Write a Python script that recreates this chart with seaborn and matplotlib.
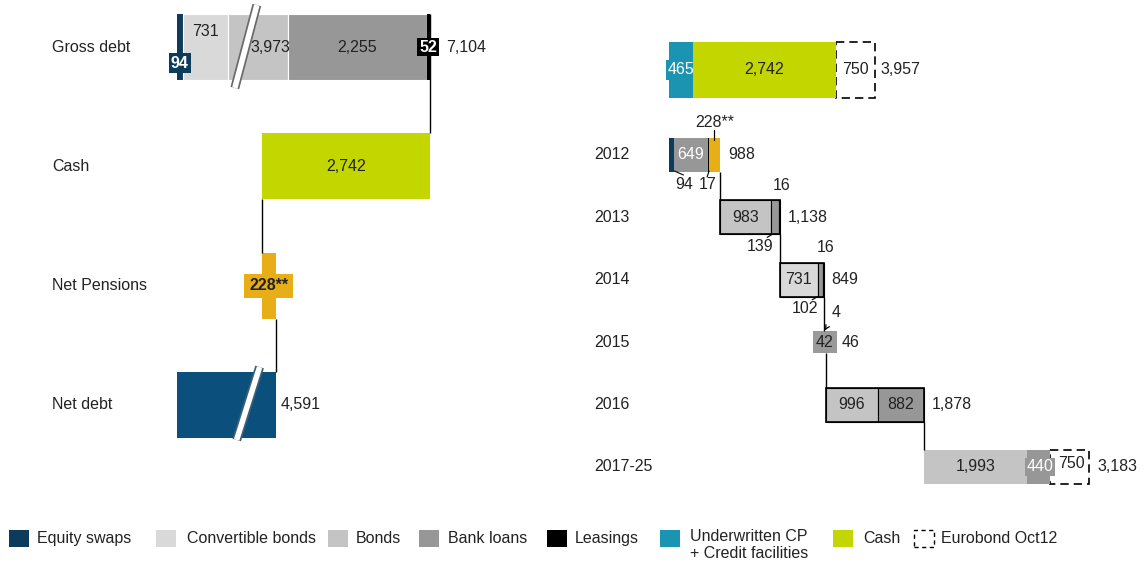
import matplotlib
matplotlib.use("Agg")
import matplotlib.pyplot as plt
import seaborn as sns
import numpy as np
from matplotlib.patches import Rectangle

# ---------------- data ----------------
bridge_rows = ["Gross debt", "Cash", "Net Pensions", "Net debt"]
gross_types = ["Equity swaps", "Convertible bonds", "Bonds", "Bank loans", "Leasings"]
gross_values = [94, 731, 3973, 2255, 52]
gross_labels = ["94", "731", "3,973", "2,255", "52"]
gross_total = 7104
cash_value = 2742
pension_value = 228
net_debt_value = 4591
axis_break_units = 2980          # amount hidden by the "//" break marks

liquidity_types = ["Underwritten CP", "Cash", "Eurobond Oct12"]
liquidity_values = [465, 2742, 750]
liquidity_labels = ["465", "2,742", "750"]
liquidity_total = 3957

years = ["2012", "2013", "2014", "2015", "2016", "2017-25"]
year_totals = [988, 1138, 849, 46, 1878, 3183]
types_2012 = ["Equity swaps", "Bank loans", "Leasings", "Pensions"]
values_2012 = [94, 649, 17, 228]
types_2013 = ["Bonds", "Bank loans", "Leasings"]
values_2013 = [983, 139, 16]
types_2014 = ["Convertible bonds", "Bank loans", "Leasings"]
values_2014 = [731, 102, 16]
types_2015 = ["Leasings", "Bank loans"]
values_2015 = [4, 42]
types_2016 = ["Bonds", "Bank loans"]
values_2016 = [996, 882]
types_2017 = ["Bonds", "Bank loans", "Eurobond Oct12"]
values_2017 = [1993, 440, 750]

legend_labels = ["Equity swaps", "Convertible bonds", "Bonds", "Bank loans", "Leasings",
                 "Underwritten CP\n+ Credit facilities", "Cash", "Eurobond Oct12"]
legend_keys = ["Equity swaps", "Convertible bonds", "Bonds", "Bank loans", "Leasings",
               "Underwritten CP", "Cash", "Eurobond Oct12"]

colors = {
    "Equity swaps": "#0d3b5c",
    "Convertible bonds": "#d9d9d9",
    "Bonds": "#c4c4c4",
    "Bank loans": "#979797",
    "Leasings": "#000000",
    "Underwritten CP": "#1a94b0",
    "Cash": "#c3d600",
    "Pensions": "#e8ae17",
    "Net debt": "#0b4f7d",
    "Eurobond Oct12": "none",
}
TXT = "#222222"

sns.set_theme(style="white")
plt.rcParams["font.family"] = ["Liberation Sans", "DejaVu Sans"]
FS = 11.5

FIG_W, FIG_H = 1145, 568
fig = plt.figure(figsize=(FIG_W / 100, FIG_H / 100), dpi=100)

# ================= left panel (debt bridge) =================
L_W = 580
L_SCALE = 0.0613      # px per unit
L_ORIGIN = 177        # px of value 0
L_ROW_PX = 119.33
L_ROW0 = 47
axL = fig.add_axes([0, 0, L_W / FIG_W, 1])
axL.set_xlim(-L_ORIGIN / L_SCALE, (L_W - L_ORIGIN) / L_SCALE)
axL.set_ylim((FIG_H - L_ROW0) / L_ROW_PX, -L_ROW0 / L_ROW_PX)
axL.axis("off")
lx = lambda px: px / L_SCALE
ly = lambda px: px / L_ROW_PX
hL = ly(66)


def break_mark(ax, xc, yc, half_h, dx, edge):
    xs = [xc - dx, xc + dx]
    ys = [yc + half_h, yc - half_h]
    ax.plot(xs, ys, color=edge, lw=6.5, solid_capstyle="butt", zorder=5)
    ax.plot(xs, ys, color="white", lw=4, solid_capstyle="butt", zorder=6)


# gross debt stacked
disp = [v - axis_break_units if t == "Bonds" else v for t, v in zip(gross_types, gross_values)]
lefts = np.concatenate([[0], np.cumsum(disp)[:-1]])
gross_end = float(np.sum(disp))
for t, w, l in zip(gross_types, disp, lefts):
    ec = "white" if t in ("Convertible bonds", "Bonds", "Bank loans") else "none"
    axL.barh(0, w, left=l, height=hL, color=colors[t], edgecolor=ec, linewidth=0.8, zorder=2)
# labels
axL.text(lefts[0] + disp[0] / 2, ly(16), gross_labels[0], color="white", fontsize=FS,
         weight="bold", ha="center", va="center", zorder=8,
         bbox=dict(boxstyle="square,pad=0.15", fc=colors["Equity swaps"], ec="none"))
axL.text(lefts[1] + disp[1] / 2, -ly(16), gross_labels[1], color=TXT, fontsize=FS,
         ha="center", va="center", zorder=8)
axL.text(lefts[2] + disp[2] / 2 + lx(12), 0, gross_labels[2], color=TXT, fontsize=FS,
         ha="center", va="center", zorder=8)
axL.text(lefts[3] + disp[3] / 2, 0, gross_labels[3], color=TXT, fontsize=FS,
         ha="center", va="center", zorder=8)
axL.text(lefts[4] + disp[4] / 2, 0, gross_labels[4], color="white", fontsize=FS,
         weight="bold", ha="center", va="center", zorder=8,
         bbox=dict(boxstyle="square,pad=0.12", fc="black", ec="none"))
axL.text(gross_end + lx(16), 0, f"{gross_total:,}", color=TXT, fontsize=FS,
         ha="left", va="center")
break_mark(axL, lefts[2] + 0.3 * disp[2], 0 - ly(0.5), ly(41.5), lx(11), "#6a6a6a")

# cash
cash_left = gross_end - cash_value
axL.barh(1, cash_value, left=cash_left, height=hL, color=colors["Cash"], linewidth=0, zorder=2)
axL.text(cash_left + cash_value / 2, 1, f"{cash_value:,}", color=TXT, fontsize=FS,
         ha="center", va="center")
axL.vlines(gross_end, 0 - hL / 2, 1 - hL / 2, color="black", lw=1, zorder=3)
axL.vlines(cash_left, 1 + hL / 2, 2 - hL / 2, color="black", lw=1, zorder=3)

# net pensions (cross)
axL.barh(2, pension_value, left=cash_left, height=hL, color=colors["Pensions"], linewidth=0, zorder=2)
axL.barh(2, lx(49), left=cash_left + pension_value / 2 - lx(49) / 2, height=ly(24),
         color=colors["Pensions"], linewidth=0, zorder=2)
axL.text(cash_left + pension_value / 2, 2, f"{pension_value}**", color=TXT, fontsize=FS,
         weight="bold", ha="center", va="center", zorder=8)
pension_end = cash_left + pension_value
axL.vlines(pension_end, 2 + hL / 2, 3 - hL / 2, color="black", lw=1, zorder=3)

# net debt
net_disp = net_debt_value - axis_break_units
axL.barh(3, net_disp, left=0, height=hL, color=colors["Net debt"], linewidth=0, zorder=2)
axL.text(net_disp + lx(5), 3, f"{net_debt_value:,}", color=TXT, fontsize=FS,
         ha="left", va="center")
break_mark(axL, 0.72 * net_disp, 3 - ly(1.5), ly(36.5), lx(11.5), "#3d5f7a")

for i, r in enumerate(bridge_rows):
    axL.text(52 / L_W, i, r, transform=axL.get_yaxis_transform(), color=TXT,
             fontsize=FS, ha="left", va="center")

# ================= right panel (maturities) =================
R_X0 = 580
R_W = FIG_W - R_X0
R_SCALE = 0.052
R_ORIGIN = 669 - R_X0
R_ROW_PX = 62.4
R_ROW0 = 155
axR = fig.add_axes([R_X0 / FIG_W, 0, R_W / FIG_W, 1])
axR.set_xlim(-R_ORIGIN / R_SCALE, (R_W - R_ORIGIN) / R_SCALE)
axR.set_ylim((FIG_H - R_ROW0) / R_ROW_PX, -R_ROW0 / R_ROW_PX)
axR.axis("off")
rx = lambda px: px / R_SCALE
ry = lambda px: px / R_ROW_PX

DASH = (0, (5, 3))

# top liquidity bar
top_y = -ry(85)
hT = ry(56)
liq_lefts = np.concatenate([[0], np.cumsum(liquidity_values)[:-1]])
for t, v, l, lab in zip(liquidity_types, liquidity_values, liq_lefts, liquidity_labels):
    if t == "Eurobond Oct12":
        axR.add_patch(Rectangle((l, top_y - hT / 2), v, hT, fill=False, ec="black",
                                lw=1.2, ls=DASH, zorder=1))
        axR.text(l + v / 2, top_y, lab, color=TXT, fontsize=FS, ha="center", va="center")
    elif t == "Underwritten CP":
        axR.barh(top_y, v, left=l, height=hT, color=colors[t], linewidth=0, zorder=2)
        axR.barh(top_y, rx(30), left=l + v / 2 - rx(30) / 2, height=ry(20),
                 color=colors[t], linewidth=0, zorder=2)
        axR.text(l + v / 2, top_y, lab, color="white", fontsize=FS, ha="center",
                 va="center", zorder=8)
    else:
        axR.barh(top_y, v, left=l, height=hT, color=colors[t], linewidth=0, zorder=2)
        axR.text(l + v / 2, top_y, lab, color=TXT, fontsize=FS, ha="center", va="center")
axR.text(liquidity_total + rx(6), top_y, f"{liquidity_total:,}", color=TXT, fontsize=FS,
         ha="left", va="center")

# yearly maturities
year_types = [types_2012, types_2013, types_2014, types_2015, types_2016, types_2017]
year_values = [values_2012, values_2013, values_2014, values_2015, values_2016, values_2017]
starts = np.concatenate([[0], np.cumsum(year_totals)[:-1]])
hY = ry(34)
outlined = {"2013", "2014", "2016"}
row_half = []

for i, (yr, tps, vals) in enumerate(zip(years, year_types, year_values)):
    segl = starts[i] + np.concatenate([[0], np.cumsum(vals)[:-1]])
    end = starts[i] + year_totals[i]
    half = hY / 2
    if yr == "2015":
        # enlarged label box
        for t, v, l in zip(tps, vals, segl):
            axR.barh(i, v, left=l, height=ry(22), color=colors[t], linewidth=0, zorder=2)
        cx = starts[i] + year_totals[i] / 2
        axR.barh(i, rx(24), left=cx - rx(12), height=ry(22), color="#9a9a9a",
                 linewidth=0, zorder=3)
        axR.text(cx, i, str(vals[1]), color=TXT, fontsize=FS, ha="center", va="center", zorder=8)
        axR.text(cx + rx(17), i, str(year_totals[i]), color=TXT, fontsize=FS,
                 ha="left", va="center")
        axR.annotate(str(vals[0]), xy=(cx, i - ry(12)), xytext=(cx + rx(11), i - ry(30)),
                     color=TXT, fontsize=FS, ha="center", va="center",
                     arrowprops=dict(arrowstyle="->", lw=0.9, color="black",
                                     shrinkA=5, shrinkB=0, mutation_scale=7))
        half = ry(11)
        row_half.append(half)
        continue
    for t, v, l in zip(tps, vals, segl):
        if t == "Eurobond Oct12":
            axR.add_patch(Rectangle((l, i - hY / 2), v, hY, fill=False, ec="black",
                                    lw=1.2, ls=DASH, zorder=1))
            axR.text(l + v / 2 + rx(2), i - ry(3), f"{v:,}", color=TXT, fontsize=FS,
                     ha="center", va="center", zorder=8)
            continue
        ec = "black" if yr in outlined else "none"
        axR.barh(i, v, left=l, height=hY, color=colors[t], edgecolor=ec,
                 linewidth=0.8, zorder=2)
    # outline box
    if yr in outlined:
        axR.add_patch(Rectangle((starts[i], i - hY / 2), year_totals[i], hY, fill=False,
                                ec="black", lw=1.2, zorder=4))
    axR.text(end + rx(8), i, f"{year_totals[i]:,}", color=TXT, fontsize=FS,
             ha="left", va="center")
    row_half.append(half)

    # segment labels
    for t, v, l in zip(tps, vals, segl):
        c = l + v / 2
        if t == "Eurobond Oct12":
            continue
        if yr == "2012":
            if t == "Bank loans":
                axR.text(c, i, str(v), color="white", fontsize=FS, ha="center", va="center", zorder=8)
            elif t == "Pensions":
                axR.text(c, i - ry(32), f"{v}**", color=TXT, fontsize=FS, ha="center", va="center")
                axR.plot([c, c], [i - ry(25), i - ry(15)], color="black", lw=0.9, zorder=6)
            elif t == "Equity swaps":
                axR.text(c + rx(13), i + ry(30), str(v), color=TXT, fontsize=FS, ha="center", va="center")
                axR.plot([c + rx(3), c + rx(12)], [i + ry(16), i + ry(20)], color="black", lw=0.8)
            elif t == "Leasings":
                axR.text(c, i + ry(30), str(v), color=TXT, fontsize=FS, ha="center", va="center")
                axR.plot([c + rx(1), c - rx(1)], [i + ry(16), i + ry(22)], color="black", lw=0.8)
        elif yr in ("2013", "2014"):
            if t == "Leasings":
                axR.text(c + rx(2), i - ry(32), str(v), color=TXT, fontsize=FS, ha="center", va="center")
            elif t == "Bank loans":
                axR.text(c - rx(15), i + ry(29), str(v), color=TXT, fontsize=FS, ha="center", va="center")
                axR.plot([c - rx(3), c - rx(8)], [i + ry(17), i + ry(20)], color="black", lw=0.8)
            else:
                axR.text(c, i, str(v), color=TXT, fontsize=FS, ha="center", va="center", zorder=8)
        elif yr == "2016":
            axR.text(c, i, f"{v:,}", color=TXT, fontsize=FS, ha="center", va="center", zorder=8)
        elif yr == "2017-25":
            if t == "Bank loans":
                axR.barh(i, rx(30), left=c - rx(14), height=ry(18), color=colors[t],
                         linewidth=0, zorder=3)
                axR.text(c + rx(1), i, str(v), color="white", fontsize=FS, ha="center", va="center", zorder=8)
            else:
                axR.text(c, i, f"{v:,}", color=TXT, fontsize=FS, ha="center", va="center", zorder=8)

# connectors between years
for i in range(len(years) - 1):
    xe = starts[i] + year_totals[i]
    axR.vlines(xe, i + row_half[i], i + 1 - row_half[i + 1], color="black", lw=1, zorder=3)

for i, yr in enumerate(years):
    axR.text((594 - R_X0) / R_W, i, yr, transform=axR.get_yaxis_transform(), color=TXT,
             fontsize=FS, ha="left", va="center")

# ================= legend =================
sw_left = [9, 156, 328, 419, 547, 660, 833, 914]
tx_left = [37, 187, 356, 448, 575, 690, 863, 941]
sw_top, sw_h, sw_w = 530, 17, 20
fx = lambda px: px / FIG_W
fy = lambda py: (FIG_H - py) / FIG_H
for key, lab, sl, tl in zip(legend_keys, legend_labels, sw_left, tx_left):
    if key == "Eurobond Oct12":
        r = Rectangle((fx(sl), fy(sw_top + sw_h)), sw_w / FIG_W, sw_h / FIG_H, fill=False,
                      ec="black", lw=1, ls=(0, (3, 2.5)), transform=fig.transFigure)
    else:
        r = Rectangle((fx(sl), fy(sw_top + sw_h)), sw_w / FIG_W, sw_h / FIG_H,
                      fc=colors[key], ec="none", transform=fig.transFigure)
    fig.add_artist(r)
    if "\n" in lab:
        fig.text(fx(tl), fy(sw_top - 1), lab, color=TXT, fontsize=FS, ha="left", va="top",
                 linespacing=1.2)
    else:
        fig.text(fx(tl), fy(sw_top + sw_h / 2), lab, color=TXT, fontsize=FS, ha="left",
                 va="center")

fig.savefig("out.png", dpi=100)
